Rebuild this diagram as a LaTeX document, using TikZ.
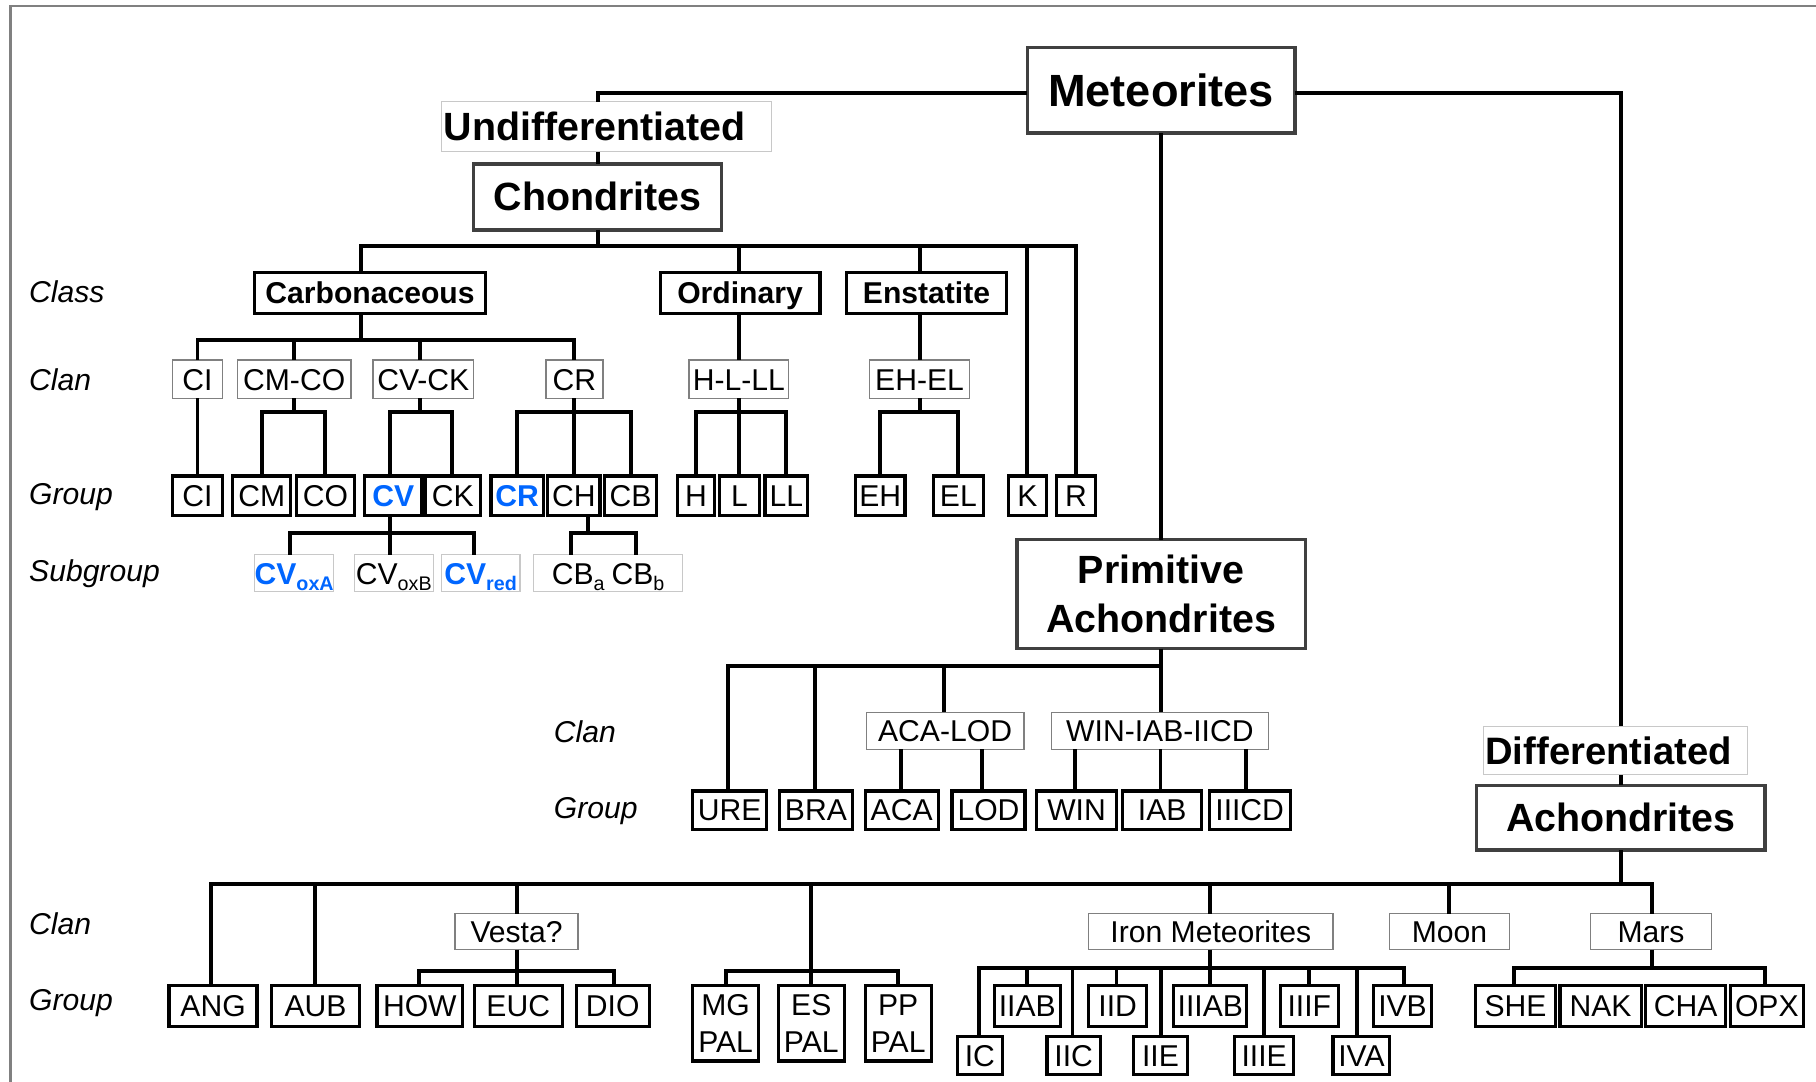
\documentclass[tikz,border=0pt]{standalone}
\usepackage{fontspec}
\setmainfont{Liberation Sans}
\definecolor{bdk}{RGB}{64,64,64}
\definecolor{bmid}{RGB}{128,128,128}
\definecolor{blt}{RGB}{200,200,200}
\definecolor{cvblue}{RGB}{0,102,255}
\newcommand\lowsub[1]{\raisebox{-5.5pt}{\fontsize{17pt}{17pt}\selectfont #1}}
\tikzset{
  conn/.style={line width=3.4pt},
  sz/.style 2 args={minimum width=#1pt,minimum height=#2pt},
  bx/.style={inner sep=0pt, outer sep=0pt, fill=white},
  th/.style={text height=#1pt, text depth=0pt},
  bigbox/.style={bx, th=24.3, draw=bdk, line width=3pt, font=\fontsize{34pt}{42pt}\selectfont\bfseries},
  bigml/.style={bx, draw=bdk, line width=3pt, align=center, font=\fontsize{34pt}{42pt}\selectfont\bfseries},
  lblbox/.style={bx, th=24.3, draw=blt, line width=1pt, align=left, font=\fontsize{34pt}{40pt}\selectfont\bfseries},
  clsbox/.style={bx, th=18.6, draw=black, line width=2.8pt, font=\fontsize{26pt}{30pt}\selectfont\bfseries},
  clanbox/.style={bx, th=18.6, draw=bmid, line width=1.2pt, font=\fontsize{26pt}{30pt}\selectfont},
  grpbox/.style={bx, th=18.6, draw=black, line width=2.8pt, font=\fontsize{26pt}{30pt}\selectfont},
  grpml/.style={bx, draw=black, line width=2.8pt, align=center, font=\fontsize{26pt}{32pt}\selectfont},
  subbox/.style={bx, th=18.6, draw=blt, line width=1pt, font=\fontsize{26pt}{30pt}\selectfont},
  bluebold/.style={text=cvblue, font=\fontsize{26pt}{30pt}\selectfont\bfseries},
  rowlab/.style={inner sep=0pt, anchor=west, font=\fontsize{26pt}{30pt}\selectfont\itshape},
}
\begin{document}
\begin{tikzpicture}[x=1pt,y=-1pt]
\useasboundingbox (0,0) rectangle (1568,934);
\fill[white] (0,0) rectangle (1568,934);
\draw[draw=bmid, line width=2pt] (9,934) -- (9,5) -- (1568,5);

% ---------- row labels
\node[rowlab] (lClass) at (25,252) {Class};
\node[rowlab] (lClan1) at (25,328) {Clan};
\node[rowlab] (lGroup1) at (25,429) {Group};
\node[rowlab] (lSub) at (25,495) {Subgroup};
\node[rowlab] (lClan2) at (478,632) {Clan};
\node[rowlab] (lGroup2) at (478,700) {Group};
\node[rowlab] (lClan3) at (25,798) {Clan};
\node[rowlab] (lGroup3) at (25,866) {Group};

% ---------- top level
\node[bigbox, th=27.9, sz={231}{74}, font=\fontsize{39pt}{44pt}\selectfont\bfseries] (met) at (1002.5,78) {Meteorites};
\node[lblbox, inner xsep=2pt, text width=281pt, minimum height=43pt] (und) at (523.5,109.5) {Undifferentiated};
\node[bigbox, sz={214}{57}] (cho) at (516,170) {Chondrites};
\node[bigml, sz={249}{94}] (prim) at (1002.5,513) {Primitive\\Achondrites};
\node[lblbox, th=23.6, inner xsep=1.5pt, text width=225pt, minimum height=42pt, font=\fontsize{33pt}{40pt}\selectfont\bfseries] (dif) at (1395,648) {Differentiated};
\node[bigbox, sz={249}{56}] (ach) at (1399.5,706) {Achondrites};

% ---------- classes
\node[clsbox, sz={199}{35}] (carb) at (319.5,253) {Carbonaceous};
\node[clsbox, sz={138}{35}] (ord) at (639,253) {Ordinary};
\node[clsbox, sz={138}{36}] (ens) at (800,253) {Enstatite};

% ---------- chondrite clans
\node[clanbox, sz={43}{33}] (cCI) at (170.5,327.5) {CI};
\node[clanbox, sz={98}{33}] (cCMCO) at (254,327.5) {CM-CO};
\node[clanbox, sz={87}{33}] (cCVCK) at (365.5,327.5) {CV-CK};
\node[clanbox, sz={49}{33}] (cCR) at (496,327.5) {CR};
\node[clanbox, sz={86}{33}] (cHLL) at (638,327.5) {H-L-LL};
\node[clanbox, sz={86}{33}] (cEHEL) at (794,327.5) {EH-EL};

% ---------- chondrite groups
\node[grpbox, sz={43}{34}] (gCI) at (170.5,428) {CI};
\node[grpbox, sz={50}{34}] (gCM) at (226,428) {CM};
\node[grpbox, sz={50}{34}] (gCO) at (281,428) {CO};
\node[grpbox, bluebold, sz={49}{34}] (gCV) at (339.5,428) {CV};
\node[grpbox, sz={48}{34}] (gCK) at (391,428) {CK};
\node[grpbox, bluebold, sz={45}{34}] (gCR) at (446.5,428) {CR};
\node[grpbox, sz={45}{34}] (gCH) at (495.5,428) {CH};
\node[grpbox, sz={45}{34}] (gCB) at (544.5,428) {CB};
\node[grpbox, sz={32}{34}] (gH) at (601,428) {H};
\node[grpbox, sz={34}{34}] (gL) at (638.5,428) {L};
\node[grpbox, sz={37}{34}] (gLL) at (679,428) {LL};
\node[grpbox, sz={43}{34}] (gEH) at (760,428) {EH};
\node[grpbox, sz={43}{34}] (gEL) at (827.5,428) {EL};
\node[grpbox, sz={33}{34}] (gK) at (887,428) {K};
\node[grpbox, sz={34}{34}] (gR) at (929,428) {R};

% ---------- subgroups
\node[subbox, bluebold, sz={68}{32}] (sA) at (254,495) {CV\lowsub{oxA}};
\node[subbox, sz={68}{32}] (sB) at (340,495) {CV\lowsub{oxB}};
\node[subbox, bluebold, sz={68}{32}] (sR) at (415,495) {CV\lowsub{red}};
\node[subbox, sz={128}{32}] (sCB) at (525,495) {CB\lowsub{a}\hspace{6pt}CB\lowsub{b}};

% ---------- primitive achondrites
\node[clanbox, sz={136}{32}] (cACA) at (816,631) {ACA-LOD};
\node[clanbox, sz={187}{32}] (cWIN) at (1001.5,631) {WIN-IAB-IICD};
\node[grpbox, sz={64}{33}] (gURE) at (630,699.5) {URE};
\node[grpbox, sz={63}{33}] (gBRA) at (704.5,699.5) {BRA};
\node[grpbox, sz={63}{33}] (gACA) at (778.5,699.5) {ACA};
\node[grpbox, sz={63}{33}] (gLOD) at (853.5,699.5) {LOD};
\node[grpbox, sz={69}{33}] (gWIN) at (929.5,699.5) {WIN};
\node[grpbox, sz={68}{33}] (gIAB) at (1003.5,699.5) {IAB};
\node[grpbox, sz={70}{33}] (gIIICD) at (1079,699.5) {IIICD};

% ---------- achondrite clans
\node[clanbox, sz={106}{31}] (cVes) at (446,804.5) {Vesta?};
\node[clanbox, sz={211}{31}] (cIron) at (1045.5,804.5) {Iron Meteorites};
\node[clanbox, sz={104}{31}] (cMoon) at (1251.5,804.5) {Moon};
\node[clanbox, sz={104}{31}] (cMars) at (1425.5,804.5) {Mars};

% ---------- achondrite groups
\node[grpbox, sz={76}{35}] (gANG) at (184,868.5) {ANG};
\node[grpbox, sz={76}{35}] (gAUB) at (272.5,868.5) {AUB};
\node[grpbox, sz={74}{35}] (gHOW) at (362.5,868.5) {HOW};
\node[grpbox, sz={76}{35}] (gEUC) at (447.5,868.5) {EUC};
\node[grpbox, sz={63}{35}] (gDIO) at (529,868.5) {DIO};
\node[grpml, sz={57}{65}] (gMG) at (626.5,883.5) {MG\\PAL};
\node[grpml, sz={57}{65}] (gES) at (700.5,883.5) {ES\\PAL};
\node[grpml, sz={57}{65}] (gPP) at (775.5,883.5) {PP\\PAL};
\node[grpbox, sz={57}{35}] (gIIAB) at (887,868.5) {IIAB};
\node[grpbox, sz={50}{35}] (gIID) at (965,868.5) {IID};
\node[grpbox, sz={63}{35}] (gIIIAB) at (1045,868.5) {IIIAB};
\node[grpbox, sz={50}{35}] (gIIIF) at (1130.5,868.5) {IIIF};
\node[grpbox, sz={50}{35}] (gIVB) at (1211,868.5) {IVB};
\node[grpbox, sz={39}{33}] (gIC) at (846,911.5) {IC};
\node[grpbox, sz={46}{33}] (gIIC) at (927,911.5) {IIC};
\node[grpbox, sz={46}{33}] (gIIE) at (1002,911.5) {IIE};
\node[grpbox, sz={51}{33}] (gIIIE) at (1091.5,911.5) {IIIE};
\node[grpbox, sz={49}{33}] (gIVA) at (1175.5,911.5) {IVA};
\node[grpbox, sz={69}{35}] (gSHE) at (1308.5,868.5) {SHE};
\node[grpbox, sz={70}{35}] (gNAK) at (1382,868.5) {NAK};
\node[grpbox, sz={69}{35}] (gCHA) at (1455.5,868.5) {CHA};
\node[grpbox, sz={63}{35}] (gOPX) at (1525.5,868.5) {OPX};

% ================= connectors
% Meteorites
\draw[conn] (met.west |- 0,80) -| (und.north -| cho.north);
\draw[conn] (und.south -| cho.north) -- (cho.north);
\draw[conn] (met.east |- 0,80) -| (dif.north -| ach.north);
\draw[conn] (dif.south -| ach.north) -- (ach.north);
\draw[conn] (met.south) -- (prim.north);

% Chondrites -> classes
\draw[conn] (cho.south) -- (cho.south |- 0,212.5) -| (carb.north -| 312,0);
\draw[conn] (cho.south |- 0,212.5) -| (ord.north -| 638,0);
\draw[conn] (cho.south |- 0,212.5) -| (ens.north -| 794,0);
\draw[conn] (cho.south |- 0,212.5) -| (gK.north);
\draw[conn] (cho.south |- 0,212.5) -| (gR.north);

% Carbonaceous -> clans
\draw[conn] (carb.south -| 312,0) -- (312,293.5) -| (cCI.north);
\draw[conn] (312,293.5) -| (cCMCO.north);
\draw[conn] (312,293.5) -| (cCVCK.north -| 362.5,0);
\draw[conn] (312,293.5) -| (cCR.north);
\draw[conn] (ord.south -| 638,0) -- (cHLL.north);
\draw[conn] (ens.south -| 794,0) -- (cEHEL.north);

% clans -> groups
\draw[conn] (cCI.south) -- (gCI.north);
\draw[conn] (cCMCO.south) -- (cCMCO.south |- 0,356) -| (gCM.north);
\draw[conn] (cCMCO.south |- 0,356) -| (gCO.north);
\draw[conn] (cCVCK.south -| 362.5,0) -- (362.5,356) -| (gCV.north -| 336.5,0);
\draw[conn] (362.5,356) -| (gCK.north -| 390,0);
\draw[conn] (cCR.south) -- (cCR.south |- 0,356) -| (gCR.north);
\draw[conn] (cCR.south) -- (gCH.north -| cCR.south);
\draw[conn] (cCR.south |- 0,356) -| (gCB.north);
\draw[conn] (cHLL.south) -- (cHLL.south |- 0,356) -| (gH.north);
\draw[conn] (cHLL.south) -- (gL.north -| cHLL.south);
\draw[conn] (cHLL.south |- 0,356) -| (gLL.north);
\draw[conn] (cEHEL.south) -- (cEHEL.south |- 0,356) -| (gEH.north);
\draw[conn] (cEHEL.south |- 0,356) -| (gEL.north);

% groups -> subgroups
\draw[conn] (gCV.south -| 337,0) -- (337,460) -| (sA.north -| 250,0);
\draw[conn] (337,460) -- (sB.north -| 337,0);
\draw[conn] (337,460) -| (sR.north -| 409,0);
\draw[conn] (gCH.south -| 508,0) -- (508,460) -| (sCB.north -| 493,0);
\draw[conn] (508,460) -| (sCB.north -| 549,0);

% Primitive achondrites
\draw[conn] (prim.south) -- (prim.south |- 0,575) -| (gURE.north -| 628.5,0);
\draw[conn] (prim.south |- 0,575) -| (gBRA.north -| 703.5,0);
\draw[conn] (prim.south |- 0,575) -| (cACA.north -| 815,0);
\draw[conn] (prim.south) -- (cWIN.north -| prim.south);
\draw[conn] (cACA.south -| 778,0) -- (gACA.north -| 778,0);
\draw[conn] (cACA.south -| 848,0) -- (gLOD.north -| 848,0);
\draw[conn] (cWIN.south -| 928,0) -- (gWIN.north -| 928,0);
\draw[conn] (cWIN.south -| 1002,0) -- (gIAB.north -| 1002,0);
\draw[conn] (cWIN.south -| 1076,0) -- (gIIICD.north -| 1076,0);

% Achondrites
\draw[conn] (ach.south) -- (ach.south |- 0,763) -| (gANG.north -| 182,0);
\draw[conn] (ach.south |- 0,763) -| (gAUB.north -| 272,0);
\draw[conn] (ach.south |- 0,763) -| (cVes.north -| 446.5,0);
\draw[conn] (ach.south |- 0,763) -| (gES.north -| 700,0);
\draw[conn] (ach.south |- 0,763) -| (cIron.north -| 1045,0);
\draw[conn] (ach.south |- 0,763) -| (cMoon.north -| 1251,0);
\draw[conn] (ach.south |- 0,763) -| (cMars.north -| 1426,0);

% Vesta
\draw[conn] (cVes.south -| 446.5,0) -- (446.5,838) -| (gHOW.north -| 362,0);
\draw[conn] (446.5,838) -- (gEUC.north -| 446.5,0);
\draw[conn] (446.5,838) -| (gDIO.north -| 530,0);
% Pallasites
\draw[conn] (700,838) -| (gMG.north -| 627,0);
\draw[conn] (700,838) -| (gPP.north -| 775.5,0);
% Iron
\draw[conn] (cIron.south -| 1045,0) -- (1045,836) -| (gIC.north -| 845,0);
\draw[conn] (1045,836) -| (gIIAB.north -| 887,0);
\draw[conn] (1045,836) -| (gIIC.north -| 926,0);
\draw[conn] (1045,836) -| (gIID.north -| 964,0);
\draw[conn] (1045,836) -| (gIIE.north -| 1002.5,0);
\draw[conn] (1045,836) -- (gIIIAB.north -| 1045,0);
\draw[conn] (1045,836) -| (gIIIE.north -| 1091.5,0);
\draw[conn] (1045,836) -| (gIIIF.north -| 1130,0);
\draw[conn] (1045,836) -| (gIVA.north -| 1172,0);
\draw[conn] (1045,836) -| (gIVB.north -| 1212,0);
% Mars
\draw[conn] (cMars.south -| 1426,0) -- (1426,836) -| (gSHE.north -| 1307,0);
\draw[conn] (1426,836) -| (gOPX.north -| 1524,0);
\end{tikzpicture}
\end{document}
